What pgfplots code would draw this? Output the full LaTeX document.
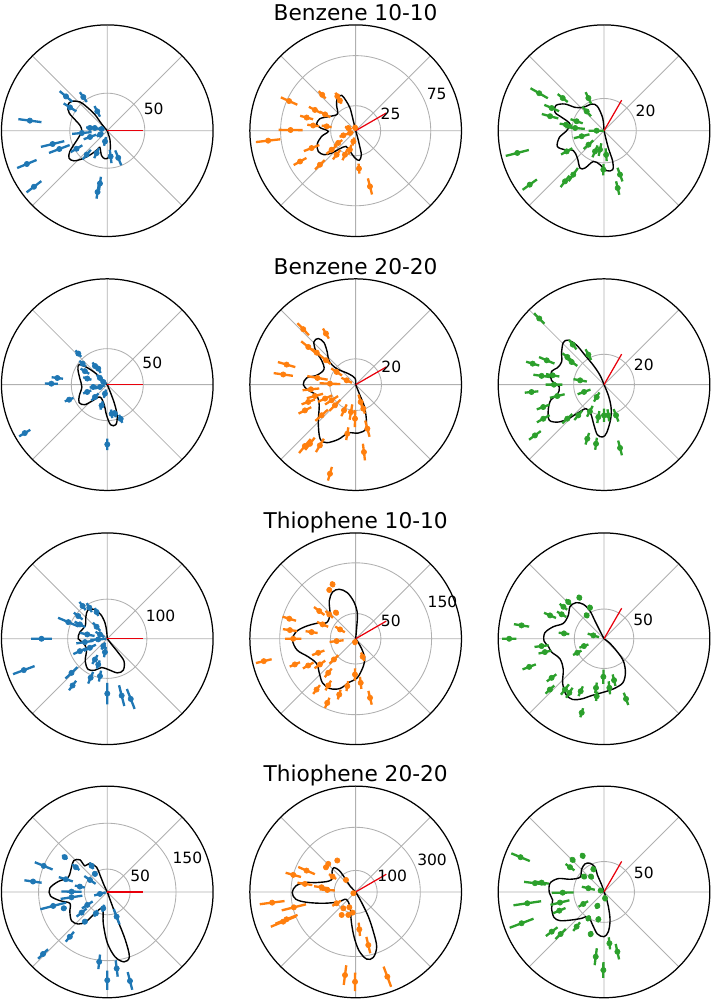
\documentclass[border=0pt]{standalone}
\usepackage{fontspec}
\setmainfont{DejaVu Sans}
\usepackage{pgfplots}
\pgfplotsset{compat=1.18}
\usepgfplotslibrary{polar}
\definecolor{c1}{HTML}{1F77B4}
\definecolor{c2}{HTML}{FF7F0E}
\definecolor{c3}{HTML}{2CA02C}
\definecolor{gridgray}{HTML}{B0B0B0}
\definecolor{redl}{HTML}{E8000B}
\pgfplotsset{
  mypolar/.style={
    scale only axis, width=136.5pt, height=136.5pt,
    xmin=0, xmax=360, ymin=0,
    xtick={0,45,...,315},
    xticklabels={}, yticklabels={},
    grid=major,
    major grid style={gridgray, line width=0.55pt},
    major tick length=0pt,
    separate axis lines,
    x axis line style={black, line width=0.8pt},
    y axis line style={draw=none},
    anchor=center,
    clip=false,
    unbounded coords=jump,
  },
  pts/.style={color=#1, only marks, mark=*, mark size=1.7pt},
  bars/.style={color=#1, line width=1.5pt, no marks},
  curve/.style={black, line width=0.9pt, smooth, tension=0.55, no marks},
  redline/.style={redl, line width=0.8pt, no marks},
}
\tikzset{tl/.style={anchor=south west, inner sep=1pt, font=\fontsize{10}{12}\selectfont}}
\begin{document}
\begin{tikzpicture}
\useasboundingbox (0,0) rectangle (458.6pt,645pt);
% ---------------- Row 1: Benzene 10-10
\begin{polaraxis}[mypolar, at={(69.2pt,560.7pt)}, ymax=141, ytick={50}, name=a11]
\addplot[curve] coordinates {(300,0) (130,11.6) (127.6,27) (130.6,41) (133.6,53) (140.6,61.5) (147.4,62.7) (155,56) (161.2,45.5) (169,37) (180,34) (191.4,38) (200.9,46) (209,57) (215.5,62.7) (222,60) (228.6,50) (236,37.5) (243.4,27) (246,24.3) (257,34) (265,37.5) (273,35.6) (279,25.6) (286.5,12.5) (287,4.6) (300,0)};
\addplot[bars=c1] coordinates {
(172.6,88.5) (172.6,119.5) (nan,nan) (140.3,60.5) (140.3,82.5) (nan,nan)
(148,48.6) (148,68.6) (nan,nan) (125.5,47) (125.5,63) (nan,nan)
(117.4,21) (117.4,37) (nan,nan) (185.2,21) (185.2,47) (nan,nan)
(167.8,10) (167.8,24) (nan,nan) (164,4) (164,12) (nan,nan)
(193.7,59) (193.7,91) (nan,nan) (200.9,53.7) (200.9,83.1) (nan,nan)
(202.5,102) (202.5,130) (nan,nan) (217.4,110.6) (217.4,135.4) (nan,nan)
(210.4,38.5) (210.4,56.5) (nan,nan) (229.3,33.6) (229.3,50.4) (nan,nan)
(244.5,25.5) (244.5,40.5) (nan,nan) (277.4,25.6) (277.4,43.6) (nan,nan)
(292,28.3) (292,49.7) (nan,nan) (262.1,62) (262.1,80) (nan,nan)
(261,73.7) (261,91.7) (nan,nan) (171,18.5) (171,28.5) (nan,nan)
(208.6,6) (208.6,16) (nan,nan) (258,8.6) (258,20.6) (nan,nan)
(200,15.5) (200,33.5)};
\addplot[pts=c1] coordinates {
(172.6,104) (140.3,71.5) (148,58.6) (125.5,55) (117.4,29) (185.2,34) (167.8,17) (164,8)
(193.7,75) (200.9,68.4) (202.5,116) (217.4,123) (210.4,47.5) (229.3,42) (244.5,33) (277.4,34.6)
(292,39) (262.1,71) (261,82.7) (171,23.5) (208.6,11) (258,14.6) (200,24.5)};
\addplot[redline] coordinates {(0,0) (0,47)};
\node[tl] at (axis cs:22.5,50) {50};
\end{polaraxis}
\begin{polaraxis}[mypolar, at={(229.4pt,560.7pt)}, ymax=105.7, ytick={25,75}, name=a12]
\addplot[curve] coordinates {(300,0) (103.3,13) (104,23.3) (107.9,31.5) (111.6,38) (119.3,37.4) (126.9,31.7) (137.7,24.7) (152.9,30.7) (161.4,37.6) (170.3,39.6) (175.6,35) (181.4,27.3) (189.5,34.5) (199.2,40.6) (209,42.7) (217.2,39.7) (223,32.8) (228.3,24.6) (238.3,18.4) (254.7,21.4) (268.6,27.3) (277,29.9) (283.3,24.7) (284.7,14.5) (286.4,5.9) (300,0)};
\addplot[bars=c2] coordinates {
(186.5,75.7) (186.5,100.3) (nan,nan) (179.4,53) (179.4,77) (nan,nan)
(156,63.8) (156,81.8) (nan,nan) (165,44) (165,57.4) (nan,nan)
(153,39) (153,52.4) (nan,nan) (133,44) (133,54) (nan,nan)
(118,35) (118,43) (nan,nan) (117.6,30.5) (117.6,37.5) (nan,nan)
(152,28.6) (152,40.6) (nan,nan) (173,36.7) (173,48.7) (nan,nan)
(171.5,24.3) (171.5,34.3) (nan,nan) (201.5,39) (201.5,55.6) (nan,nan)
(209,56.2) (209,70.8) (nan,nan) (223.6,42.6) (223.6,56) (nan,nan)
(218.4,23.9) (218.4,37.3) (nan,nan) (215,16.3) (215,26.3) (nan,nan)
(246,20.3) (246,32.3) (nan,nan) (253,14.8) (253,24.8) (nan,nan)
(275,33) (275,43) (nan,nan) (284.4,49.2) (284.4,65.8) (nan,nan)
(258,7) (258,15) (nan,nan) (202,2.5) (202,9.5) (nan,nan)
(160,4.3) (160,11.3) (nan,nan) (100,0) (100,6) (nan,nan)
(200.7,9.2) (200.7,17.2) (nan,nan) (231.6,24.6) (231.6,36.6)};
\addplot[pts=c2] coordinates {
(186.5,88) (179.4,65) (156,72.8) (165,50.7) (153,45.7) (133,49) (118,39) (117.6,34)
(152,34.6) (173,42.7) (171.5,29.3) (201.5,47.3) (209,63.5) (223.6,49.3) (218.4,30.6) (215,21.3)
(246,26.3) (253,19.8) (275,38) (284.4,57.5) (258,11) (202,6) (160,7.8) (100,3)
(200.7,13.2) (231.6,30.6)};
\addplot[redline] coordinates {(30,0) (30,35.2)};
\node[tl] at (axis cs:22.5,25) {25};
\node[tl] at (axis cs:22.5,75) {75};
\end{polaraxis}
\begin{polaraxis}[mypolar, at={(389.6pt,560.7pt)}, ymax=65.7, ytick={20}, name=a13]
\addplot[curve] coordinates {(300,0) (96,7.9) (105.3,15.7) (114.8,18.2) (131.5,19.4) (141.2,23.1) (145.6,29.3) (152.2,33.7) (159.5,32.5) (162.5,27.5) (169,21.5) (181,23.6) (188.5,28) (198.6,30.6) (206,27) (213,22.7) (225.7,23.7) (237.3,27.6) (243,26) (251,20.2) (263.3,21.3) (273.8,24.9) (282.5,24.8) (285.8,19.8) (284,11.1) (283,3.6) (300,0)};
\addplot[bars=c3] coordinates {
(194.4,48.2) (194.4,63) (nan,nan) (216,51.5) (216,62.5) (nan,nan)
(150,40.3) (150,52.7) (nan,nan) (156.6,30.4) (156.6,40.4) (nan,nan)
(165,29.4) (165,40) (nan,nan) (141.7,28.7) (141.7,36.7) (nan,nan)
(171,19.9) (171,27.9) (nan,nan) (115.6,18.5) (115.6,26.5) (nan,nan)
(132,12.1) (132,20.1) (nan,nan) (174.7,12) (174.7,24) (nan,nan)
(180,0) (180,9.6) (nan,nan) (194,9.3) (194,19.3) (nan,nan)
(222,9) (222,17) (nan,nan) (209,22.5) (209,30.5) (nan,nan)
(235,28.3) (235,38.3) (nan,nan) (232.4,35.2) (232.4,44.2) (nan,nan)
(246.5,10) (246.5,18) (nan,nan) (258,8) (258,16) (nan,nan)
(275,11) (275,19) (nan,nan) (269,20.7) (269,27.7) (nan,nan)
(290,24.5) (290,33.5) (nan,nan) (283.4,32.3) (283.4,40.9) (nan,nan)
(161,14) (161,22)};
\addplot[pts=c3] coordinates {
(194.4,55.6) (216,57) (150,46.5) (156.6,35.4) (165,34.7) (141.7,32.7) (171,23.9) (115.6,22.5)
(132,16.1) (174.7,18) (180,4.6) (194,14.3) (222,13) (209,26.5) (235,33.3) (232.4,39.7)
(246.5,14) (258,12) (275,15) (269,24.2) (290,29) (283.4,36.6) (161,18)};
\addplot[redline] coordinates {(60,0) (60,21.9)};
\node[tl] at (axis cs:22.5,20) {20};
\end{polaraxis}
% ---------------- Row 2: Benzene 20-20
\begin{polaraxis}[mypolar, at={(69.2pt,396.9pt)}, ymax=147, ytick={50}, name=a21]
\addplot[curve] coordinates {(310,0) (133.4,11.5) (136.5,25.6) (140.4,38.6) (144.5,48) (152.4,46) (167.6,39) (185.3,35.5) (202,42) (212.7,46.4) (221.8,41.8) (228.2,29.3) (239.3,20) (260,26.9) (268.8,42.8) (274.8,56) (281.8,57) (287.2,47.2) (290.4,30.7) (292,13.5) (310,0)};
\addplot[bars=c1] coordinates {
(133,53) (133,65) (nan,nan) (139.6,39) (139.6,51) (nan,nan)
(149,29.3) (149,43.3) (nan,nan) (163,23) (163,35) (nan,nan)
(119.4,18.6) (119.4,32.6) (nan,nan) (172.4,62) (172.4,78) (nan,nan)
(179,68.7) (179,86.7) (nan,nan) (201.5,50.5) (201.5,63.5) (nan,nan)
(210.4,124) (210.4,142) (nan,nan) (270,75) (270,91) (nan,nan)
(225,17.3) (225,31.3) (nan,nan) (200,23.7) (200,35.7) (nan,nan)
(197.6,3.7) (197.6,17.7) (nan,nan) (146,1.7) (146,11.7) (nan,nan)
(255.5,7) (255.5,19) (nan,nan) (254.7,24) (254.7,36) (nan,nan)
(278.5,35) (278.5,47) (nan,nan) (291.4,45) (291.4,57) (nan,nan)
(284.8,36.8) (284.8,46.8) (nan,nan) (123.5,25) (123.5,37) (nan,nan)
(137.7,8) (137.7,20) (nan,nan) (189.5,14.8) (189.5,24.8)};
\addplot[pts=c1] coordinates {
(133,59) (139.6,45) (149,36.3) (163,29) (119.4,25.6) (172.4,70) (179,77.7) (201.5,57)
(210.4,133) (270,83) (225,24.3) (200,29.7) (197.6,10.7) (146,6.7) (255.5,13) (254.7,30)
(278.5,41) (291.4,51) (284.8,41.8) (123.5,31) (137.7,14) (189.5,19.8)};
\addplot[redline] coordinates {(0,0) (0,49)};
\node[tl] at (axis cs:22.5,50) {50};
\end{polaraxis}
\begin{polaraxis}[mypolar, at={(229.4pt,396.9pt)}, ymax=81.8, ytick={20}, name=a22]
\addplot[curve] coordinates {(300,0) (96,5) (123.7,10.2) (139.9,19.2) (138.5,27.2) (131,33.5) (127,40.7) (129,45.9) (134.3,46.2) (140,40.1) (144.4,32.4) (154.2,27.2) (166.5,31) (172.3,38.3) (180,40.5) (186.8,36.9) (195.3,31.3) (209.6,32.4) (225,40.9) (236.6,50) (243.4,50.2) (252.4,44.4) (261.4,37.8) (273,37.5) (283.2,35) (288.6,25) (292,17.3) (292,8.9) (300,0)};
\addplot[bars=c2] coordinates {
(133.4,52.6) (133.4,65.4) (nan,nan) (120.2,41.2) (120.2,50.2) (nan,nan)
(163.8,48.6) (163.8,62.6) (nan,nan) (172,49) (172,64) (nan,nan)
(141.5,39.8) (141.5,53.8) (nan,nan) (140.6,34.5) (140.6,43.5) (nan,nan)
(140.6,25.2) (140.6,34.2) (nan,nan) (146.3,12.7) (146.3,22.7) (nan,nan)
(154.3,3.2) (154.3,12.2) (nan,nan) (170,22) (170,38) (nan,nan)
(177.8,11.9) (177.8,27.9) (nan,nan) (186,28.3) (186,41.3) (nan,nan)
(195.6,26.2) (195.6,39.2) (nan,nan) (200,33.5) (200,44.5) (nan,nan)
(206.9,38.5) (206.9,49.5) (nan,nan) (204.5,20) (204.5,32) (nan,nan)
(213,16.2) (213,28.2) (nan,nan) (222,28.9) (222,41.9) (nan,nan)
(230.4,54.6) (230.4,68.6) (nan,nan) (239.5,48.5) (239.5,60.5) (nan,nan)
(232.3,51.8) (232.3,63.8) (nan,nan) (253.9,66.2) (253.9,77.2) (nan,nan)
(245.6,16.8) (245.6,26.8) (nan,nan) (260.3,15.5) (260.3,27.5) (nan,nan)
(268.9,19.8) (268.9,32.8) (nan,nan) (260.3,33.5) (260.3,43.5) (nan,nan)
(277,46) (277,59) (nan,nan) (284.9,28.7) (284.9,41.7) (nan,nan)
(286,8) (286,20) (nan,nan) (287.7,15.5) (287.7,23.5) (nan,nan)
(225,16.6) (225,28.6)};
\addplot[pts=c2] coordinates {
(133.4,59) (120.2,45.7) (163.8,55.6) (172,56.5) (141.5,46.8) (140.6,39) (140.6,29.7) (146.3,17.7)
(154.3,7.7) (170,30) (177.8,19.9) (186,34.8) (195.6,32.7) (200,39) (206.9,44) (204.5,26)
(213,22.2) (222,35.4) (230.4,61.6) (239.5,54.5) (232.3,57.8) (253.9,71.7) (245.6,21.8) (260.3,21.5)
(268.9,26.3) (260.3,38.5) (277,52.5) (284.9,35.2) (286,14) (287.7,19.5) (225,22.6)};
\addplot[redline] coordinates {(30,0) (30,27.3)};
\node[tl] at (axis cs:22.5,20) {20};
\end{polaraxis}
\begin{polaraxis}[mypolar, at={(389.6pt,396.9pt)}, ymax=69.7, ytick={20}, name=a23]
\addplot[curve] coordinates {(300,0) (113.2,6.7) (118.9,14.6) (122.9,23) (124.8,31.6) (128.8,37.6) (134,38.6) (142.3,35.3) (151.8,31.7) (160.3,32.7) (165.7,35.6) (175.3,34.7) (183,29.5) (192,31.5) (196.4,36.7) (204.8,40.5) (213.1,43) (219.3,38.9) (223.6,32.5) (227.5,25) (233.1,19.8) (245.3,21) (256.2,27.6) (262.4,33.3) (268.5,34.5) (273.2,31.7) (281.1,22.9) (287.4,15.4) (292,7.6) (300,0)};
\addplot[bars=c3] coordinates {
(134.4,56.2) (134.4,65.8) (nan,nan) (128,29.5) (128,37.5) (nan,nan)
(117.6,18.3) (117.6,26.3) (nan,nan) (143,26.3) (143,34.3) (nan,nan)
(145,21.5) (145,30.5) (nan,nan) (157,35.5) (157,46.5) (nan,nan)
(163.6,44.5) (163.6,53.5) (nan,nan) (172,36) (172,47) (nan,nan)
(169.7,29.9) (169.7,38.9) (nan,nan) (185.8,43.5) (185.8,52.5) (nan,nan)
(180,27.5) (180,38.5) (nan,nan) (193.7,26.7) (193.7,36.7) (nan,nan)
(200.2,38.2) (200.2,47.2) (nan,nan) (209.3,41.1) (209.3,50.7) (nan,nan)
(216.3,51.7) (216.3,61.3) (nan,nan) (222.8,28.5) (222.8,37.5) (nan,nan)
(230,22.4) (230,30.4) (nan,nan) (169.8,11.5) (169.8,20.5) (nan,nan)
(200,9.5) (200,18.5) (nan,nan) (239.3,6) (239.3,13) (nan,nan)
(252.8,33.3) (252.8,41.3) (nan,nan) (262.3,35.3) (262.3,43.3) (nan,nan)
(270,15.8) (270,24.6) (nan,nan) (260,17.7) (260,25.7) (nan,nan)
(291.4,17.3) (291.4,26.1) (nan,nan) (284.2,38) (284.2,48) (nan,nan)
(278,16.4) (278,24.4) (nan,nan) (242,15.9) (242,23.9)};
\addplot[pts=c3] coordinates {
(134.4,61) (128,33.5) (117.6,22.3) (143,30.3) (145,26) (157,41) (163.6,49) (172,41.5)
(169.7,34.4) (185.8,48) (180,33) (193.7,31.7) (200.2,42.7) (209.3,45.9) (216.3,56.5) (222.8,33)
(230,26.4) (169.8,16) (200,14) (239.3,9.5) (252.8,37.3) (262.3,39.3) (270,20.2) (260,21.7)
(291.4,21.7) (284.2,43) (278,20.4) (242,19.9)};
\addplot[redline] coordinates {(60,0) (60,23.2)};
\node[tl] at (axis cs:22.5,20) {20};
\end{polaraxis}
% ---------------- Row 3: Thiophene 10-10
\begin{polaraxis}[mypolar, at={(69.2pt,233.0pt)}, ymax=267, ytick={100}, name=a31]
\addplot[curve] coordinates {(320,0) (95,19.4) (98.3,41) (105.3,63.9) (114.4,81.6) (124,87.5) (134.1,77.6) (150,64.3) (166.3,71.2) (180,73.4) (189.5,61.6) (207.3,58.9) (225.4,79.4) (238.2,91.3) (248.5,85.2) (258.8,74) (271.9,77.7) (286.4,89.7) (297,89) (306.7,70.6) (308.2,45) (307.4,18) (320,0)};
\addplot[bars=c1] coordinates {
(180,140) (180,192) (nan,nan) (200.6,196) (200.6,254) (nan,nan)
(156.9,79) (156.9,135) (nan,nan) (127,90.6) (127,116.6) (nan,nan)
(120,77.7) (120,103.7) (nan,nan) (111.8,61.7) (111.8,83.7) (nan,nan)
(142,79) (142,107) (nan,nan) (152.3,63) (152.3,93) (nan,nan)
(167.8,32.8) (167.8,70.8) (nan,nan) (131.6,26.6) (131.6,54.6) (nan,nan)
(204.3,58) (204.3,94) (nan,nan) (207.4,32.5) (207.4,66.5) (nan,nan)
(239.2,48) (239.2,74) (nan,nan) (260,21.3) (260,47.3) (nan,nan)
(223.6,103.8) (223.6,145.8) (nan,nan) (233.4,132) (233.4,162) (nan,nan)
(246.9,91) (246.9,123) (nan,nan) (258.9,82) (258.9,110) (nan,nan)
(270,111.4) (270,165.4) (nan,nan) (284.2,121) (284.2,175) (nan,nan)
(291.3,136) (291.3,190) (nan,nan) (250.7,58) (250.7,80) (nan,nan)
(184,3) (184,43) (nan,nan) (149.4,8.5) (149.4,34.5) (nan,nan)
(188.5,35) (188.5,79) (nan,nan) (241.4,11) (241.4,31)};
\addplot[pts=c1] coordinates {
(180,166) (200.6,225) (156.9,107) (127,103.6) (120,90.7) (111.8,72.7) (142,93) (152.3,78)
(167.8,51.8) (131.6,40.6) (204.3,76) (207.4,49.5) (239.2,61) (260,34.3) (223.6,124.8) (233.4,147)
(246.9,107) (258.9,96) (270,138.4) (284.2,148) (291.3,163) (250.7,69) (184,23) (149.4,21.5)
(188.5,57) (241.4,21)};
\addplot[redline] coordinates {(0,0) (0,89)};
\node[tl] at (axis cs:22.5,100) {100};
\end{polaraxis}
\begin{polaraxis}[mypolar, at={(229.4pt,233.0pt)}, ymax=209, ytick={50,150}, name=a32]
\addplot[curve] coordinates {(320,0) (84.8,21.9) (86.2,50.3) (92.6,72.7) (100.3,92.5) (108.3,103) (116.2,103) (125,91) (136.5,70) (151.1,65.6) (158.5,83) (166.7,103) (173.6,119) (181.2,124.8) (191,117.7) (200.8,100.3) (212.3,91.4) (223.1,98.5) (233.1,109) (242.7,110.7) (252.5,103) (261.7,86.7) (272.4,77.3) (285.7,56.2) (295.3,41.6) (301,23) (303.7,9.5) (320,0)};
\addplot[bars=c2] coordinates {
(113,110.8) (113,122.8) (nan,nan) (118.4,104.6) (118.4,114.6) (nan,nan)
(142.7,77.4) (142.7,103.4) (nan,nan) (137.3,61) (137.3,81) (nan,nan)
(127,58.5) (127,70.5) (nan,nan) (163.2,123) (163.2,151) (nan,nan)
(172.5,117) (172.5,145) (nan,nan) (180,107.4) (180,139.4) (nan,nan)
(171.4,76) (171.4,100) (nan,nan) (156.5,59.2) (156.5,83.2) (nan,nan)
(149.2,25) (149.2,47) (nan,nan) (187,23.9) (187,51.9) (nan,nan)
(193.7,170.8) (193.7,202.8) (nan,nan) (202.9,119.4) (202.9,141.4) (nan,nan)
(209.4,95.6) (209.4,119.6) (nan,nan) (200.6,66) (200.6,92) (nan,nan)
(215.7,74) (215.7,100) (nan,nan) (223.6,47.3) (223.6,71.3) (nan,nan)
(231.2,75.4) (231.2,97.4) (nan,nan) (232.4,115.6) (232.4,137.6) (nan,nan)
(239.6,96) (239.6,118) (nan,nan) (246.1,127.6) (246.1,149.6) (nan,nan)
(253.6,104.9) (253.6,124.9) (nan,nan) (260,85) (260,105) (nan,nan)
(268.9,58.6) (268.9,82.6) (nan,nan) (276.5,75.7) (276.5,99.7) (nan,nan)
(283.7,106) (283.7,134) (nan,nan) (291.3,29.2) (291.3,47.2) (nan,nan)
(258.7,0.7) (258.7,12.7)};
\addplot[pts=c2] coordinates {
(113,116.8) (118.4,109.6) (142.7,90.4) (137.3,71) (127,64.5) (163.2,137) (172.5,131) (180,123.4)
(171.4,88) (156.5,71.2) (149.2,36) (187,37.9) (193.7,186.8) (202.9,130.4) (209.4,107.6) (200.6,79)
(215.7,87) (223.6,59.3) (231.2,86.4) (232.4,126.6) (239.6,107) (246.1,138.6) (253.6,114.9) (260,95)
(268.9,70.6) (276.5,87.7) (283.7,120) (291.3,38.2) (258.7,6.7)};
\addplot[redline] coordinates {(30,0) (30,69.7)};
\node[tl] at (axis cs:22.5,50) {50};
\node[tl] at (axis cs:22.5,150) {150};
\end{polaraxis}
\begin{polaraxis}[mypolar, at={(389.6pt,233.0pt)}, ymax=178, ytick={50}, name=a33]
\addplot[curve] coordinates {(330,0) (117.5,14.6) (117,33.4) (116.8,52.3) (121,67.6) (127.9,76.9) (136.7,78.7) (146.8,71.9) (159.3,73.3) (166.7,87.8) (174.2,100) (182.2,101) (187.5,94.7) (194.3,91) (204.4,81.5) (217,85.9) (226.8,101.8) (235.7,113.6) (242.7,115) (249.6,108) (257.7,97.8) (269.3,90) (280.6,85.8) (293,80.6) (302.1,67.7) (310.9,49.8) (315.8,29.8) (323,11.2) (330,0)};
\addplot[bars=c3] coordinates {
(121,75.7) (121,85.7) (nan,nan) (134.2,80.3) (134.2,92.3) (nan,nan)
(141.8,79) (141.8,95) (nan,nan) (114.3,52.4) (114.3,62.4) (nan,nan)
(126.6,44) (126.6,54) (nan,nan) (156.6,88) (156.6,110) (nan,nan)
(150,73.3) (150,91.3) (nan,nan) (170.8,127.6) (170.8,153.6) (nan,nan)
(180,147.6) (180,171.6) (nan,nan) (172.4,59) (172.4,77) (nan,nan)
(162.6,8.8) (162.6,28.8) (nan,nan) (186.7,93.8) (186.7,117.8) (nan,nan)
(192.7,91) (192.7,113) (nan,nan) (200.6,122.5) (200.6,146.5) (nan,nan)
(200,28) (200,44) (nan,nan) (207.7,42.8) (207.7,58.8) (nan,nan)
(216.7,100) (216.7,120) (nan,nan) (223.2,114.9) (223.2,134.9) (nan,nan)
(232.4,96.8) (232.4,118.8) (nan,nan) (237.3,98) (237.3,118) (nan,nan)
(246,87.6) (246,105.6) (nan,nan) (253.2,122) (253.2,138) (nan,nan)
(260.7,74.7) (260.7,92.7) (nan,nan) (262.7,89.5) (262.7,105.5) (nan,nan)
(269,52) (269,76) (nan,nan) (276.2,72) (276.2,94) (nan,nan)
(283.6,61.7) (283.6,81.7) (nan,nan) (290.1,96.7) (290.1,118.7)};
\addplot[pts=c3] coordinates {
(121,80.7) (134.2,86.3) (141.8,87) (114.3,57.4) (126.6,49) (156.6,99) (150,82.3) (170.8,140.6)
(180,159.6) (172.4,68) (162.6,18.8) (186.7,105.8) (192.7,102) (200.6,134.5) (200,36) (207.7,50.8)
(216.7,110) (223.2,124.9) (232.4,107.8) (237.3,108) (246,96.6) (253.2,130) (260.7,83.7) (262.7,97.5)
(269,64) (276.2,83) (283.6,71.7) (290.1,107.7)};
\addplot[redline] coordinates {(60,0) (60,59.3)};
\node[tl] at (axis cs:22.5,50) {50};
\end{polaraxis}
% ---------------- Row 4: Thiophene 20-20
\begin{polaraxis}[mypolar, at={(69.2pt,69.7pt)}, ymax=231, ytick={50,150}, name=a41]
\addplot[curve] coordinates {(300,0) (115.5,17) (113.3,40.5) (113.4,58.8) (121.2,73.4) (130.7,75) (130.5,92.2) (136.8,100.2) (145.3,95) (159.4,91.2) (168.1,109.7) (176.3,125.8) (184,124.4) (190.4,105.4) (196.9,85.4) (207.8,92.4) (218.8,100.2) (227.8,94.6) (234.3,80) (240,54) (254,37.2) (262.7,69.2) (270,111) (276.8,142.6) (283.5,157) (288.8,149.6) (290.6,112.3) (290.3,69.3) (290,34.2) (300,0)};
\addplot[bars=c1] coordinates {
(140.7,113) (140.7,127) (nan,nan) (157.7,129) (157.7,171) (nan,nan)
(172,144.7) (172,182.7) (nan,nan) (141.8,77.3) (141.8,97.3) (nan,nan)
(121,58.5) (121,74.5) (nan,nan) (124.4,41.8) (124.4,53.8) (nan,nan)
(163,78.7) (163,110.7) (nan,nan) (145.3,31) (145.3,61) (nan,nan)
(179.5,56) (179.5,100) (nan,nan) (188.5,55) (188.5,103) (nan,nan)
(194.5,93) (194.5,151) (nan,nan) (200.6,95.4) (200.6,107.4) (nan,nan)
(218.8,58) (218.8,86) (nan,nan) (213,38) (213,66) (nan,nan)
(233,75.3) (233,87.3) (nan,nan) (242,45) (242,61) (nan,nan)
(256.2,28.8) (256.2,44.8) (nan,nan) (195,3.6) (195,29.6) (nan,nan)
(290.7,39.7) (290.7,75.7) (nan,nan) (230.1,113.5) (230.1,141.5) (nan,nan)
(224,180) (224,210) (nan,nan) (263.4,137.6) (263.4,169.6) (nan,nan)
(270,171.7) (270,213.7) (nan,nan) (277,150.4) (277,186.4) (nan,nan)
(284.3,180.5) (284.3,220.5) (nan,nan) (169,50) (169,72)};
\addplot[pts=c1] coordinates {
(140.7,120) (157.7,150) (172,163.7) (141.8,87.3) (121,66.5) (124.4,47.8) (163,94.7) (145.3,46)
(179.5,78) (188.5,79) (194.5,122) (200.6,101.4) (218.8,72) (213,52) (233,81.3) (242,53)
(256.2,36.8) (195,16.6) (290.7,57.7) (230.1,127.5) (224,195) (263.4,153.6) (270,192.7) (277,168.4)
(284.3,200.5) (169,61)};
\addplot[redline] coordinates {(0,0) (0,77)};
\node[tl] at (axis cs:22.5,50) {50};
\node[tl] at (axis cs:22.5,150) {150};
\end{polaraxis}
\begin{polaraxis}[mypolar, at={(229.4pt,69.7pt)}, ymax=491, ytick={100,300}, name=a42]
\addplot[curve] coordinates {(310,0) (133.4,38.4) (128,80.6) (127.4,125) (131.7,151.5) (139.3,145) (149.3,124.5) (158.7,136.4) (166.5,186.5) (169.6,239.6) (174.3,279) (180.6,294.5) (187,279.5) (191.9,232.8) (199.3,159.3) (210,93) (217.2,56.4) (248.9,73.2) (261.7,139.5) (267.9,207.8) (273.3,273.3) (279.3,315.7) (285.1,314.7) (291,272.3) (294,202) (297.2,129) (299.4,56.9) (300,25) (310,0)};
\addplot[bars=c2] coordinates {
(120.3,163) (120.3,175) (nan,nan) (134.3,174) (134.3,190) (nan,nan)
(140.3,169) (140.3,189) (nan,nan) (156.5,206.5) (156.5,290.5) (nan,nan)
(164.7,263) (164.7,337) (nan,nan) (146.3,108.6) (146.3,148.6) (nan,nan)
(171,203.5) (171,273.5) (nan,nan) (172.2,124.6) (172.2,194.6) (nan,nan)
(176,96.8) (176,166.8) (nan,nan) (128.9,63.5) (128.9,79.5) (nan,nan)
(187.3,332.7) (187.3,448.7) (nan,nan) (194,237.5) (194,353.5) (nan,nan)
(202.3,301.5) (202.3,425.5) (nan,nan) (201.6,290) (201.6,400) (nan,nan)
(210.8,80) (210.8,126) (nan,nan) (233,89) (233,101) (nan,nan)
(238.7,119) (238.7,131) (nan,nan) (252.3,106) (252.3,118) (nan,nan)
(247.6,71) (247.6,83) (nan,nan) (261.7,91) (261.7,103) (nan,nan)
(275.6,143.4) (275.6,205.4) (nan,nan) (283.4,214.4) (283.4,292.4) (nan,nan)
(262.7,343) (262.7,435) (nan,nan) (269.6,374) (269.6,460) (nan,nan)
(290.5,370) (290.5,470) (nan,nan) (210,4) (210,20)};
\addplot[pts=c2] coordinates {
(120.3,169) (134.3,182) (140.3,179) (156.5,248.5) (164.7,300) (146.3,128.6) (171,238.5) (172.2,159.6)
(176,131.8) (128.9,71.5) (187.3,390.7) (194,295.5) (202.3,363.5) (201.6,345) (210.8,103) (233,95)
(238.7,125) (252.3,112) (247.6,77) (261.7,97) (275.6,174.4) (283.4,253.4) (262.7,389) (269.6,417)
(290.5,420) (210,12)};
\addplot[redline] coordinates {(30,0) (30,164)};
\node[tl] at (axis cs:22.5,100) {100};
\node[tl] at (axis cs:22.5,300) {300};
\end{polaraxis}
\begin{polaraxis}[mypolar, at={(389.6pt,69.7pt)}, ymax=174, ytick={50}, name=a43]
\addplot[curve] coordinates {(300,0) (108.4,12.1) (111.4,30) (110,43.2) (116,52.5) (124.2,55.7) (134.6,52.4) (148.6,46.3) (159.6,59.8) (163.7,78.3) (170.9,90) (180.7,90) (188.9,85.6) (197.3,90.3) (206.9,92.3) (213.1,86.5) (220.9,70.4) (229.7,56.9) (237.6,48.1) (251,57.5) (261,70) (270,73.6) (276.2,65.7) (282.1,47.2) (286.5,25.2) (290.6,9.4) (300,0)};
\addplot[bars=c3] coordinates {
(157.4,132.2) (157.4,165.2) (nan,nan) (120.6,64) (120.6,74) (nan,nan)
(134.4,68.8) (134.4,78.8) (nan,nan) (144,60.2) (144,78.2) (nan,nan)
(115.2,36.3) (115.2,46.3) (nan,nan) (142.5,36.5) (142.5,46.5) (nan,nan)
(130.3,28) (130.3,38) (nan,nan) (172.8,96.5) (172.8,132.5) (nan,nan)
(171.5,91.8) (171.5,115.8) (nan,nan) (166.8,15.5) (166.8,37.5) (nan,nan)
(158,2) (158,10) (nan,nan) (181,50) (181,86) (nan,nan)
(188.4,104.6) (188.4,150.6) (nan,nan) (193.6,58.6) (193.6,90.6) (nan,nan)
(202.7,68.7) (202.7,90.7) (nan,nan) (210.1,30.4) (210.1,48.4) (nan,nan)
(244.5,20.5) (244.5,30.5) (nan,nan) (279,5.6) (279,15.6) (nan,nan)
(200.8,124) (200.8,166) (nan,nan) (231.7,63.7) (231.7,81.7) (nan,nan)
(239.2,45.5) (239.2,55.5) (nan,nan) (258.3,41) (258.3,51) (nan,nan)
(252.4,67.6) (252.4,77.6) (nan,nan) (217.2,96) (217.2,120) (nan,nan)
(224.1,87.4) (224.1,111.4) (nan,nan) (276,75) (276,95) (nan,nan)
(282.6,87.7) (282.6,113.7) (nan,nan) (262.7,93.4) (262.7,121.4) (nan,nan)
(269.5,115.5) (269.5,141.5)};
\addplot[pts=c3] coordinates {
(157.4,148.7) (120.6,69) (134.4,73.8) (144,69.2) (115.2,41.3) (142.5,41.5) (130.3,33) (172.8,114.5)
(171.5,103.8) (166.8,26.5) (158,6) (181,68) (188.4,127.6) (193.6,74.6) (202.7,79.7) (210.1,39.4)
(244.5,25.5) (279,10.6) (200.8,145) (231.7,72.7) (239.2,50.5) (258.3,46) (252.4,72.6) (217.2,108)
(224.1,99.4) (276,85) (282.6,100.7) (262.7,107.4) (269.5,128.5)};
\addplot[redline] coordinates {(60,0) (60,58)};
\node[tl] at (axis cs:22.5,50) {50};
\end{polaraxis}
% ---------------- Titles
\node[anchor=base, inner sep=0pt, font=\fontsize{14}{17}\selectfont] at ([yshift=3pt]a12.north) {Benzene 10-10};
\node[anchor=base, inner sep=0pt, font=\fontsize{14}{17}\selectfont] at ([yshift=3pt]a22.north) {Benzene 20-20};
\node[anchor=base, inner sep=0pt, font=\fontsize{14}{17}\selectfont] at ([yshift=3pt]a32.north) {Thiophene 10-10};
\node[anchor=base, inner sep=0pt, font=\fontsize{14}{17}\selectfont] at ([yshift=3pt]a42.north) {Thiophene 20-20};
\end{tikzpicture}
\end{document}
